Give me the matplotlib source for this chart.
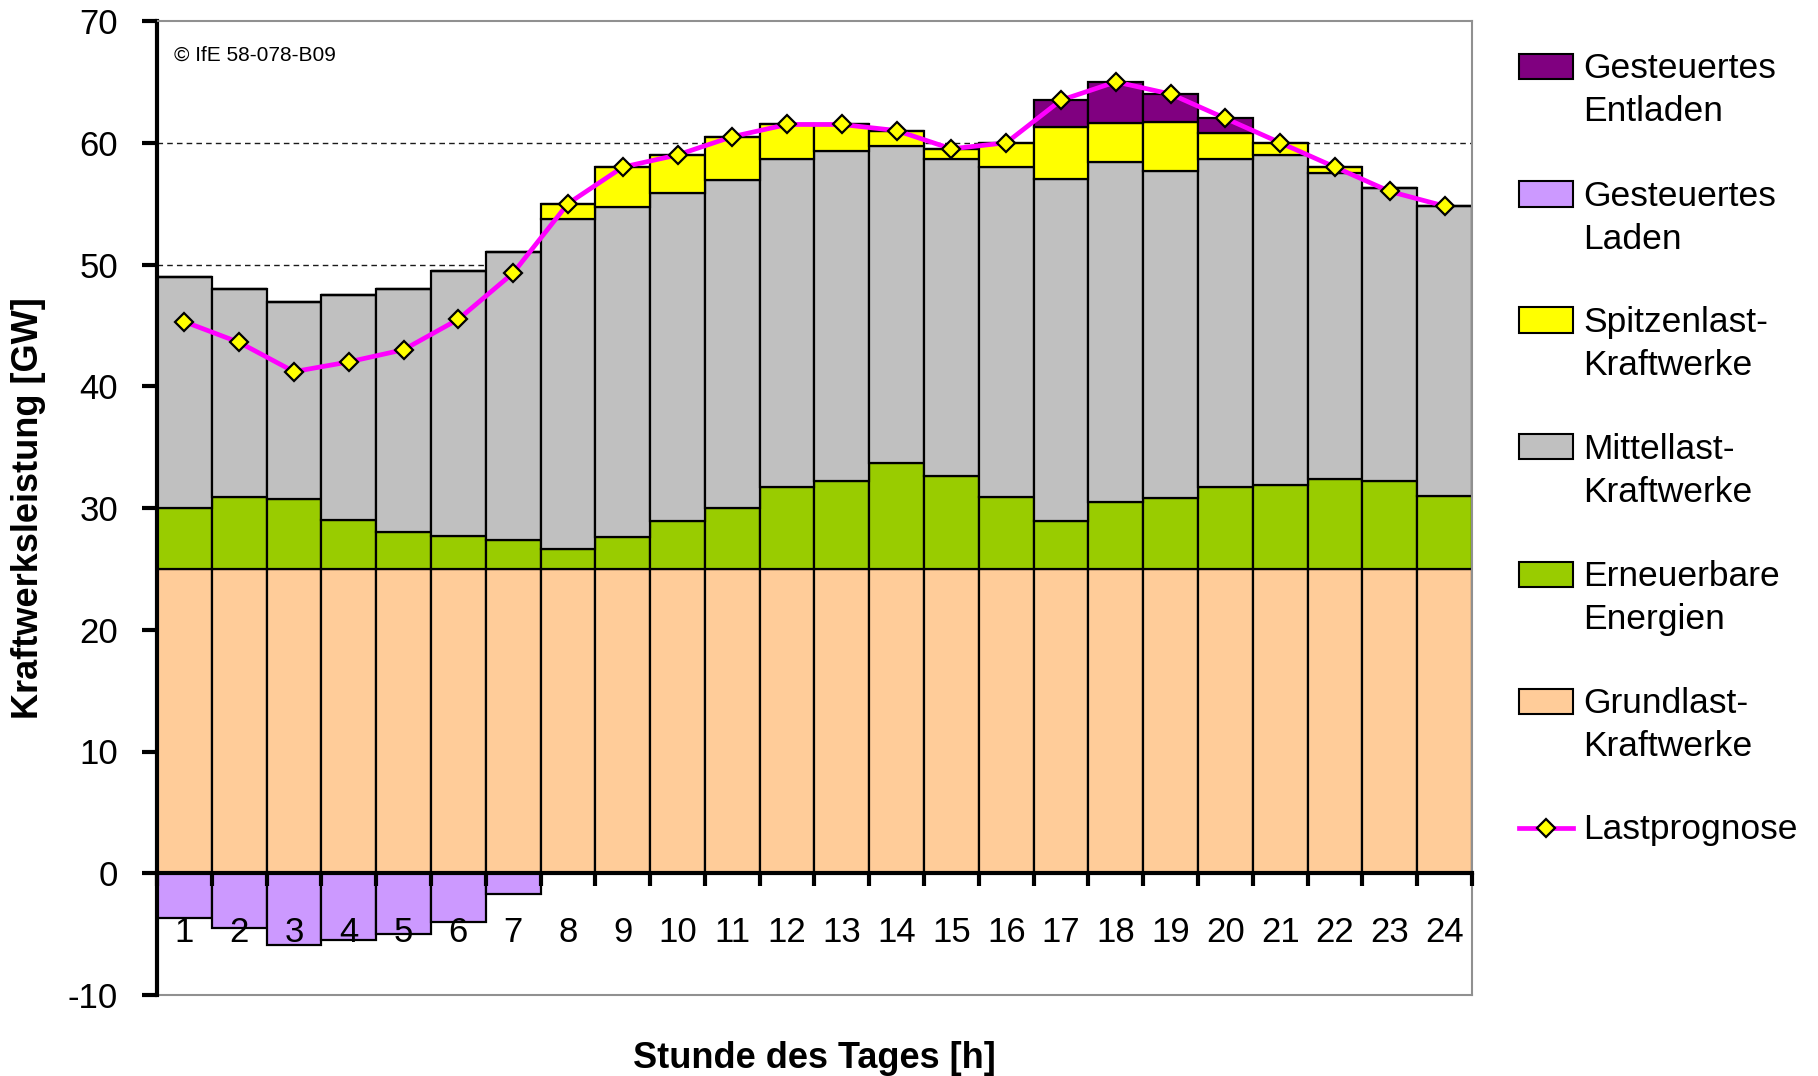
import numpy as np
import matplotlib.pyplot as plt
from matplotlib.patches import Rectangle
from matplotlib.lines import Line2D

plt.rcParams['font.family'] = ['Liberation Sans', 'DejaVu Sans']
plt.rcParams['axes.unicode_minus'] = False

# Stunde des Tages
hours = np.arange(1, 25)

# Werte in GW
grundlast = [25.0] * 24
erneuerbare = [5.0, 5.9, 5.7, 4.0, 3.0, 2.7, 2.4, 1.6, 2.6, 3.9, 5.0, 6.7,
               7.2, 8.7, 7.6, 5.9, 3.9, 5.5, 5.8, 6.7, 6.9, 7.4, 7.2, 6.0]
mittellast = [19.0, 17.1, 16.2, 18.5, 20.0, 21.8, 23.6, 27.1, 27.1, 27.0, 26.9, 27.0,
              27.1, 26.0, 26.1, 27.1, 28.1, 27.9, 26.9, 27.0, 27.1, 25.1, 24.1, 23.8]
spitzenlast = [0, 0, 0, 0, 0, 0, 0, 1.3, 3.3, 3.1, 3.6, 2.8,
               2.2, 1.3, 0.8, 2.0, 4.3, 3.2, 4.0, 2.1, 1.0, 0.5, 0, 0]
entladen = [0, 0, 0, 0, 0, 0, 0, 0, 0, 0, 0, 0,
            0, 0, 0, 0, 2.2, 3.4, 2.3, 1.2, 0, 0, 0, 0]
laden = [-3.7, -4.5, -5.9, -5.5, -5.0, -4.0, -1.7, 0, 0, 0, 0, 0,
         0, 0, 0, 0, 0, 0, 0, 0, 0, 0, 0, 0]
lastprognose = [45.3, 43.6, 41.2, 42.0, 43.0, 45.5, 49.3, 55.0, 58.0, 59.0, 60.5, 61.5,
                61.5, 61.0, 59.5, 60.0, 63.5, 65.0, 64.0, 62.0, 60.0, 58.0, 56.0, 54.8]

c_entladen = '#800080'
c_laden = '#CC99FF'
c_spitzen = '#FFFF00'
c_mittel = '#C0C0C0'
c_erneuerbar = '#99CC00'
c_grund = '#FFCC99'
c_last = '#FF00FF'

W, H = 1818, 1076
fig = plt.figure(figsize=(W / 100, H / 100), dpi=100)
ax = fig.add_axes([157 / W, 1 - 995 / H, (1472 - 157) / W, (995 - 21) / H])

# Gitterlinien hinter den Balken
yticks = np.arange(-10, 71, 10)
for yv in yticks[1:-1]:
    ax.axhline(yv, linestyle=(0, (4, 3)), color='#1a1a1a', linewidth=1.0, zorder=0.5)

# Gestapelte Balken
bottom = np.zeros(24)
for vals, col in [(grundlast, c_grund), (erneuerbare, c_erneuerbar), (mittellast, c_mittel),
                  (spitzenlast, c_spitzen), (entladen, c_entladen)]:
    ax.bar(hours, vals, width=1.0, bottom=bottom, color=col, edgecolor='black',
           linewidth=1.6, zorder=1)
    bottom += np.array(vals)
ax.bar(hours, laden, width=1.0, color=c_laden, edgecolor='black', linewidth=1.6, zorder=1)

# Lastprognose
ax.plot(hours, lastprognose, color=c_last, linewidth=3.4, marker='D', markersize=9,
        markerfacecolor='#FFFF00', markeredgecolor='black', markeredgewidth=1.6, zorder=5)

ax.set_xlim(0.5, 24.5)
ax.set_ylim(-10, 70)

# y-Achse
ax.set_yticks(yticks)
ax.tick_params(axis='y', direction='out', length=11, width=3, pad=17, labelsize=25)

# x-Achse bei 0
ax.spines['bottom'].set_position(('data', 0))
ax.spines['bottom'].set_linewidth(3)
ax.spines['left'].set_linewidth(3)
ax.spines['bottom'].set_zorder(4)
for s in ['top', 'right']:
    ax.spines[s].set_color('#909090')
    ax.spines[s].set_linewidth(1.5)
ax.plot([0, 1], [0, 0], transform=ax.transAxes, color='#909090', linewidth=1.5, clip_on=False)

ax.set_xticks(np.arange(0.5, 25, 1.0))
ax.set_xticklabels([])
ax.set_xticks(hours, minor=True)
ax.set_xticklabels([str(h) for h in hours], minor=True)
ax.tick_params(axis='x', which='major', direction='out', length=9, width=3)
ax.tick_params(axis='x', which='minor', length=0, pad=31, labelsize=25)
ax.xaxis.set_zorder(3)
ax.yaxis.set_zorder(3)

# Beschriftungen
fig.text(29 / W, 1 - 508 / H, 'Kraftwerksleistung [GW]', rotation=90, ha='center', va='center',
         fontsize=26, fontweight='bold')
fig.text(814 / W, 1 - 1058 / H, 'Stunde des Tages [h]', ha='center', va='center',
         fontsize=26, fontweight='bold')
fig.text(174 / W, 1 - 55 / H, '\u00a9 IfE 58-078-B09', ha='left', va='center', fontsize=15)

# Legende (manuell, Symbol an erster Zeile ausgerichtet)
legend_items = [
    ('Gesteuertes\nEntladen', c_entladen),
    ('Gesteuertes\nLaden', c_laden),
    ('Spitzenlast-\nKraftwerke', c_spitzen),
    ('Mittellast-\nKraftwerke', c_mittel),
    ('Erneuerbare\nEnergien', c_erneuerbar),
    ('Grundlast-\nKraftwerke', c_grund),
]
rows = [66, 194, 320, 447, 574, 701, 828]
for (label, col), yr in zip(legend_items, rows):
    fig.add_artist(Rectangle((1519 / W, 1 - (yr + 12.5) / H), 54 / W, 25 / H,
                             facecolor=col, edgecolor='black', linewidth=1.5,
                             transform=fig.transFigure))
    fig.text(1583 / W, 1 - (yr + 24) / H, label, ha='left', va='center',
             fontsize=25.5, linespacing=1.38)
yl = rows[-1]
fig.add_artist(Line2D([1519 / W, 1573 / W], [1 - yl / H, 1 - yl / H], color=c_last,
                      linewidth=3.4, transform=fig.transFigure))
fig.add_artist(Line2D([1546 / W], [1 - yl / H], marker='D', markersize=9,
                      markerfacecolor='#FFFF00', markeredgecolor='black', markeredgewidth=1.6,
                      transform=fig.transFigure))
fig.text(1583 / W, 1 - (yl + 2) / H, 'Lastprognose', ha='left', va='center', fontsize=25.5)

fig.savefig('out.png', dpi=100)
